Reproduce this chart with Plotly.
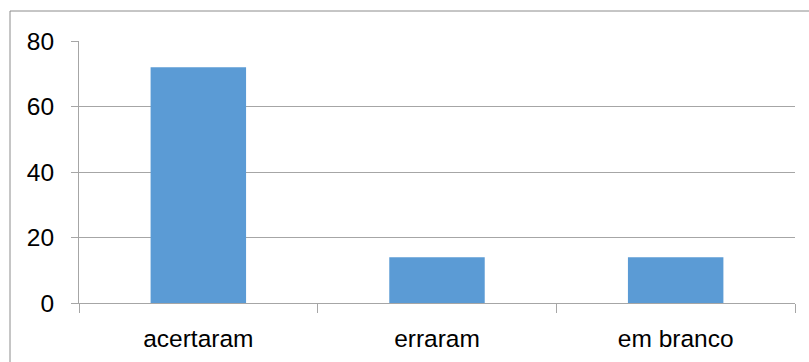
import plotly.graph_objects as go

categories = ["acertaram", "erraram", "em branco"]
values = [72, 14, 14]
y_ticks = [0, 20, 40, 60, 80]

W, H = 809, 362
L, R, T, B = 79, 795, 41, 303

fig = go.Figure(go.Bar(x=categories, y=values, marker=dict(color="#5B9BD5", line=dict(width=0)), width=0.4))

font = dict(family="Liberation Sans, Arial, sans-serif", size=24.5, color="#000000")
gridc = "#A6A6A6"

fig.update_layout(
    width=W, height=H,
    margin=dict(l=L, r=W - R, t=T, b=H - B, pad=0),
    paper_bgcolor="white", plot_bgcolor="white",
    showlegend=False,
    font=font,
    bargap=0.6,
)
fig.update_yaxes(range=[0, 80], tickvals=y_ticks, showgrid=True, gridcolor=gridc, gridwidth=1,
                 showline=True, linecolor=gridc, linewidth=1, ticks="outside", ticklen=7,
                 tickcolor=gridc, zeroline=False, tickfont=font, ticklabelstandoff=12,
                 automargin=False)
fig.update_xaxes(showline=True, linecolor=gridc, linewidth=1, ticks="outside", ticklen=9,
                 tickcolor=gridc, tickson="boundaries", showgrid=False, tickfont=font,
                 ticklabelstandoff=14, automargin=False)

# outer frame (top and left edges)
pw, ph = R - L, B - T
def px(x): return (x - L) / pw
def py(y): return (B - y) / ph
framec = "#8C8C8C"
fig.add_shape(type="line", xref="paper", yref="paper", x0=px(10), x1=px(812), y0=py(11), y1=py(11),
              line=dict(color=framec, width=1))
fig.add_shape(type="line", xref="paper", yref="paper", x0=px(10), x1=px(10), y0=py(11), y1=py(365),
              line=dict(color=framec, width=1))

fig.write_html("out.html")
